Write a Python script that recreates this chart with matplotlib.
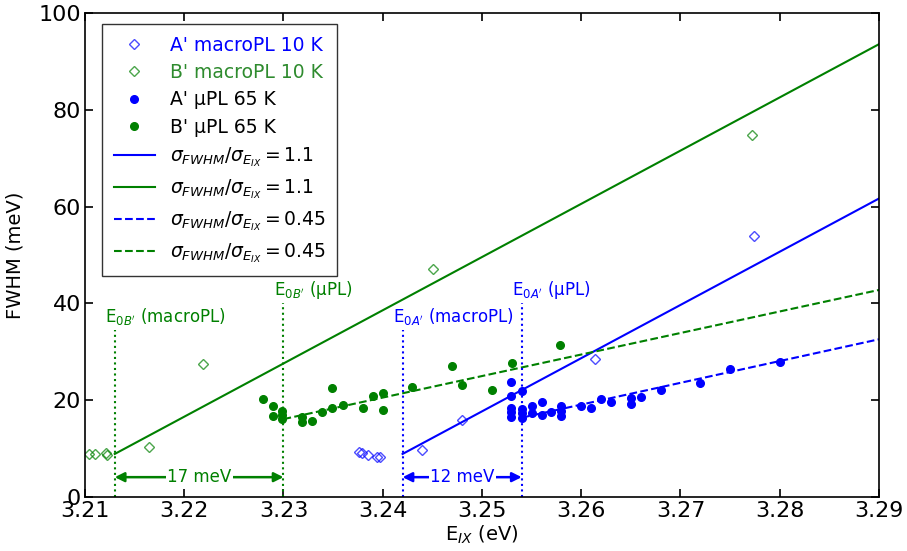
import matplotlib
matplotlib.use("Agg")
import matplotlib.pyplot as plt

blue = "#0000ff"
green = "#008000"

# macroPL 10 K (open diamonds)
a_macro_x = [3.2376, 3.2379, 3.2385, 3.2394, 3.2397, 3.2440, 3.2480, 3.2614, 3.2774]
a_macro_y = [9.4, 9.0, 8.7, 8.3, 8.3, 9.8, 16.0, 28.5, 53.9]
b_macro_x = [3.2104, 3.2110, 3.2121, 3.2122, 3.2164, 3.2219, 3.2451, 3.2772]
b_macro_y = [8.9, 8.9, 9.0, 8.7, 10.3, 27.5, 47.2, 74.8]

# uPL 65 K (filled dots)
a_mupl_x = [3.2529, 3.2529, 3.2529, 3.2529, 3.2529, 3.2540, 3.2540, 3.2540, 3.2540,
            3.2550, 3.2550, 3.2560, 3.2560, 3.2570, 3.2580, 3.2580, 3.2580, 3.2600,
            3.2610, 3.2620, 3.2630, 3.2650, 3.2650, 3.2660, 3.2680, 3.2720, 3.2750,
            3.2800]
a_mupl_y = [23.8, 20.9, 18.5, 17.6, 16.6, 22.0, 18.1, 17.3, 16.3,
            18.8, 17.3, 19.6, 16.9, 17.6, 18.8, 17.8, 16.7, 18.8,
            18.3, 20.2, 19.7, 20.4, 19.2, 20.7, 22.2, 23.5, 26.4,
            28.0]
b_mupl_x = [3.2279, 3.2289, 3.2289, 3.2299, 3.2299, 3.2299, 3.2319, 3.2319, 3.2329,
            3.2339, 3.2349, 3.2349, 3.2360, 3.2380, 3.2390, 3.2400, 3.2400, 3.2429,
            3.2470, 3.2480, 3.2510, 3.2530, 3.2579]
b_mupl_y = [20.2, 18.8, 16.7, 17.8, 16.9, 16.1, 16.6, 15.6, 15.8,
            17.6, 22.6, 18.3, 19.1, 18.5, 20.9, 21.6, 18.0, 22.8,
            27.1, 23.1, 22.1, 27.8, 31.4]

# fit lines (end points)
a_fit11_x, a_fit11_y = [3.242, 3.29], [8.9, 61.7]
b_fit11_x, b_fit11_y = [3.213, 3.29], [8.9, 93.6]
a_fit045_x, a_fit045_y = [3.254, 3.29], [16.4, 32.6]
b_fit045_x, b_fit045_y = [3.230, 3.29], [16.1, 42.8]

# E0 markers
e0_b_macro, e0_b_mupl = 3.213, 3.230
e0_a_macro, e0_a_mupl = 3.242, 3.254
e0_top_macro, e0_top_mupl = 34.5, 40.0

fig = plt.figure(figsize=(9.07, 5.51), dpi=100)
ax = fig.add_axes([0.0937, 0.098, 0.8754, 0.878])

ax.plot(a_macro_x, a_macro_y, "D", ms=5, mfc="none", mec=blue, mew=1, alpha=0.7,
        label="A' macroPL 10 K")
ax.plot(b_macro_x, b_macro_y, "D", ms=5, mfc="none", mec=green, mew=1, alpha=0.7,
        label="B' macroPL 10 K")
ax.plot(a_mupl_x, a_mupl_y, "o", ms=5.5, color=blue, mec=blue, label="A' µPL 65 K")
ax.plot(b_mupl_x, b_mupl_y, "o", ms=5.5, color=green, mec=green, label="B' µPL 65 K")

lab11 = r"$\sigma_{FWHM}/\sigma_{E_{IX}} = 1.1$"
lab045 = r"$\sigma_{FWHM}/\sigma_{E_{IX}} = 0.45$"
ax.plot(a_fit11_x, a_fit11_y, "-", color=blue, lw=1.5, label=lab11)
ax.plot(b_fit11_x, b_fit11_y, "-", color=green, lw=1.5, label=lab11)
ax.plot(a_fit045_x, a_fit045_y, "--", color=blue, lw=1.5, label=lab045)
ax.plot(b_fit045_x, b_fit045_y, "--", color=green, lw=1.5, label=lab045)

# vertical E0 lines and labels
for x, top, c, txt in [
        (e0_b_macro, e0_top_macro, green, r"E$_{0B'}$ (macroPL)"),
        (e0_b_mupl, e0_top_mupl, green, r"E$_{0B'}$ (µPL)"),
        (e0_a_macro, e0_top_macro, blue, r"E$_{0A'}$ (macroPL)"),
        (e0_a_mupl, e0_top_mupl, blue, r"E$_{0A'}$ (µPL)")]:
    ax.vlines(x, 0, top, colors=c, linestyles=":", lw=1.5)
    ax.text(x - 0.001, top + 0.6, txt, color=c, fontsize=12, ha="left", va="bottom")

# spacing arrows
for x0, x1, c, txt in [(e0_b_macro, e0_b_mupl, green, "17 meV"),
                       (e0_a_macro, e0_a_mupl, blue, "12 meV")]:
    ax.annotate("", xy=(x0, 4.1), xytext=(x1, 4.1),
                arrowprops=dict(arrowstyle="<|-|>", color=c, lw=1.8,
                                mutation_scale=14, shrinkA=0, shrinkB=0))
    ax.text((x0 + x1) / 2, 4.1, txt, color=c, fontsize=12, ha="center", va="center",
            bbox=dict(facecolor="white", edgecolor="none", pad=1))

ax.set_xlim(3.21, 3.29)
ax.set_ylim(0, 100)
ax.set_xticks([3.21, 3.22, 3.23, 3.24, 3.25, 3.26, 3.27, 3.28, 3.29])
ax.set_xticklabels(["3.21", "3.22", "3.23", "3.24", "3.25", "3.26", "3.27", "3.28", "3.29"])
ax.set_yticks([0, 20, 40, 60, 80, 100])
ax.tick_params(direction="in", top=True, right=True, length=6, width=1.2,
               labelsize=16, pad=3)
for s in ax.spines.values():
    s.set_linewidth(1.2)

ax.set_xlabel(r"E$_{IX}$ (eV)", fontsize=14, labelpad=2)
ax.set_ylabel("FWHM (meV)", fontsize=14, labelpad=10)

leg = ax.legend(loc="upper left", bbox_to_anchor=(0.022, 0.977), borderaxespad=0,
                fontsize=13.5, numpoints=1, fancybox=False, handlelength=2.2,
                labelspacing=0.45, borderpad=0.6)
leg.get_frame().set_edgecolor("black")
leg.get_frame().set_linewidth(1.0)
texts = leg.get_texts()
texts[0].set_color(blue)
texts[1].set_color("#2e8b2e")

fig.savefig("out.png", dpi=100)
